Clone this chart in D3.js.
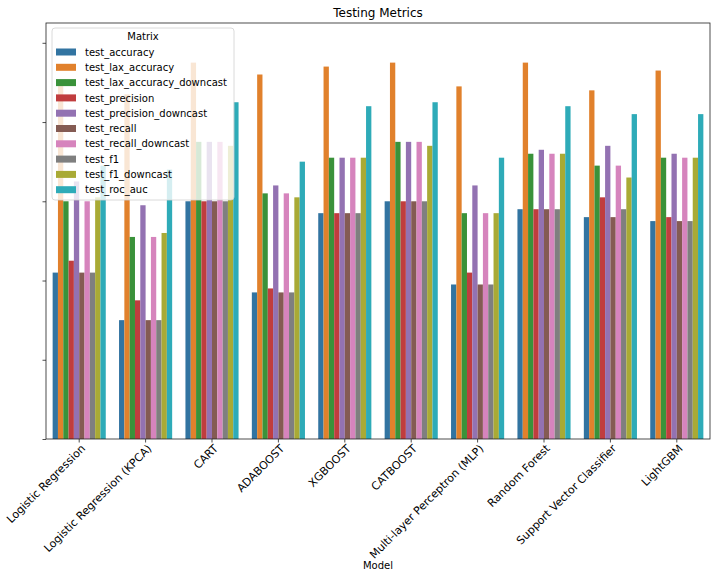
<!DOCTYPE html>
<html>
<head>
<meta charset="utf-8">
<script src="https://cdn.jsdelivr.net/npm/d3@7"></script>
<style>
  body { margin: 0; background: #fff; }
  svg, svg text { font-family: "DejaVu Sans", sans-serif; }
</style>
</head>
<body>
<svg id="chart" width="714" height="574"></svg>
<script>
const models = ["Logistic Regression", "Logistic Regression (KPCA)", "CART", "ADABOOST", "XGBOOST",
  "CATBOOST", "Multi-layer Perceptron (MLP)", "Random Forest", "Support Vector Classifier", "LightGBM"];
const metrics = ["test_accuracy", "test_lax_accuracy", "test_lax_accuracy_downcast", "test_precision",
  "test_precision_downcast", "test_recall", "test_recall_downcast", "test_f1", "test_f1_downcast", "test_roc_auc"];
const colors = ["#3274a1", "#e1812c", "#3a923a", "#c03d3e", "#9372b2", "#845b53", "#d684bd", "#7f7f7f", "#a9aa35", "#2eabb8"];

// one array per metric, in model order
const test_accuracy              = [0.42, 0.30, 0.60, 0.37, 0.57, 0.60, 0.39, 0.58, 0.56, 0.55];
const test_lax_accuracy          = [0.90, 0.87, 0.95, 0.92, 0.94, 0.95, 0.89, 0.95, 0.88, 0.93];
const test_lax_accuracy_downcast = [0.60, 0.51, 0.75, 0.62, 0.71, 0.75, 0.57, 0.72, 0.69, 0.71];
const test_precision             = [0.45, 0.35, 0.60, 0.38, 0.57, 0.60, 0.42, 0.58, 0.61, 0.56];
const test_precision_downcast    = [0.65, 0.59, 0.75, 0.64, 0.71, 0.75, 0.64, 0.73, 0.74, 0.72];
const test_recall                = [0.42, 0.30, 0.60, 0.37, 0.57, 0.60, 0.39, 0.58, 0.56, 0.55];
const test_recall_downcast       = [0.60, 0.51, 0.75, 0.62, 0.71, 0.75, 0.57, 0.72, 0.69, 0.71];
const test_f1                    = [0.42, 0.30, 0.60, 0.37, 0.57, 0.60, 0.39, 0.58, 0.58, 0.55];
const test_f1_downcast           = [0.61, 0.52, 0.74, 0.61, 0.71, 0.74, 0.57, 0.72, 0.66, 0.71];
const test_roc_auc               = [0.69, 0.68, 0.85, 0.70, 0.84, 0.85, 0.71, 0.84, 0.82, 0.82];
const seriesValues = [test_accuracy, test_lax_accuracy, test_lax_accuracy_downcast, test_precision,
  test_precision_downcast, test_recall, test_recall_downcast, test_f1, test_f1_downcast, test_roc_auc];
const yTicks = [0, 0.2, 0.4, 0.6, 0.8, 1.0];

const svg = d3.select("#chart");
const m = { left: 46, right: 4, top: 23, bottom: 135 };
const W = 714, H = 574;
const x0 = d3.scaleBand().domain(models).range([m.left, W - m.right]).paddingInner(0.2).paddingOuter(0.1);
const x1 = d3.scaleBand().domain(metrics).range([0, x0.bandwidth()]);
const y = d3.scaleLinear().domain([0, 1.05]).range([H - m.bottom, m.top]);
const color = d3.scaleOrdinal().domain(metrics).range(colors);

const data = [];
models.forEach((mod, i) => metrics.forEach((met, j) => data.push({ model: mod, metric: met, value: seriesValues[j][i] })));

svg.append("g").selectAll("rect").data(data).join("rect")
  .attr("x", d => x0(d.model) + x1(d.metric))
  .attr("y", d => y(d.value))
  .attr("width", x1.bandwidth())
  .attr("height", d => y(0) - y(d.value))
  .attr("fill", d => color(d.metric));

// axes
const xAxis = svg.append("g").attr("transform", `translate(0,${H - m.bottom})`)
  .call(d3.axisBottom(x0).tickSize(3.5).tickSizeOuter(0))
  .attr("font-family", "DejaVu Sans").attr("font-size", 11);
xAxis.select(".domain").remove();
xAxis.selectAll("line").attr("stroke", "#222").attr("stroke-width", 0.8);
xAxis.selectAll("text")
  .style("font-size", "11px").style("font-family", "DejaVu Sans")
  .attr("fill", "#000")
  .attr("text-anchor", "end")
  .attr("transform", "translate(-2,1.5) rotate(-45)")
  .attr("dy", "0.75em").attr("y", 4).attr("x", 0);

const yAxis = svg.append("g").attr("transform", `translate(${m.left},0)`)
  .call(d3.axisLeft(y).tickValues(yTicks).tickSize(3.5).tickFormat(""));
yAxis.select(".domain").remove();
yAxis.selectAll("line").attr("stroke", "#222").attr("stroke-width", 0.8);

// frame
svg.append("rect").attr("x", m.left).attr("y", m.top)
  .attr("width", W - m.right - m.left).attr("height", H - m.bottom - m.top)
  .attr("fill", "none").attr("stroke", "#222").attr("stroke-width", 0.8);

// title & labels
svg.append("text").attr("x", (m.left + W - m.right) / 2).attr("y", 17)
  .attr("text-anchor", "middle").attr("font-size", 12).text("Testing Metrics");
svg.append("text").attr("x", (m.left + W - m.right) / 2).attr("y", 569)
  .attr("text-anchor", "middle").attr("font-size", 10).text("Model");

// legend
const lg = svg.append("g").attr("transform", "translate(52,28)");
lg.append("rect").attr("width", 182).attr("height", 172).attr("rx", 3)
  .attr("fill", "#fff").attr("fill-opacity", 0.8).attr("stroke", "#d0d0d0").attr("stroke-width", 0.8);
lg.append("text").attr("x", 91).attr("y", 12).attr("text-anchor", "middle").attr("font-size", 10).text("Matrix");
const items = lg.selectAll("g.item").data(metrics).join("g").attr("class", "item")
  .attr("transform", (d, i) => `translate(4,${24 + i * 15.3})`);
items.append("rect").attr("x", 0).attr("y", -3.5).attr("width", 20).attr("height", 7).attr("fill", d => color(d));
items.append("text").attr("x", 29).attr("y", 3.6).attr("font-size", 10).text(d => d);
</script>
</body>
</html>
